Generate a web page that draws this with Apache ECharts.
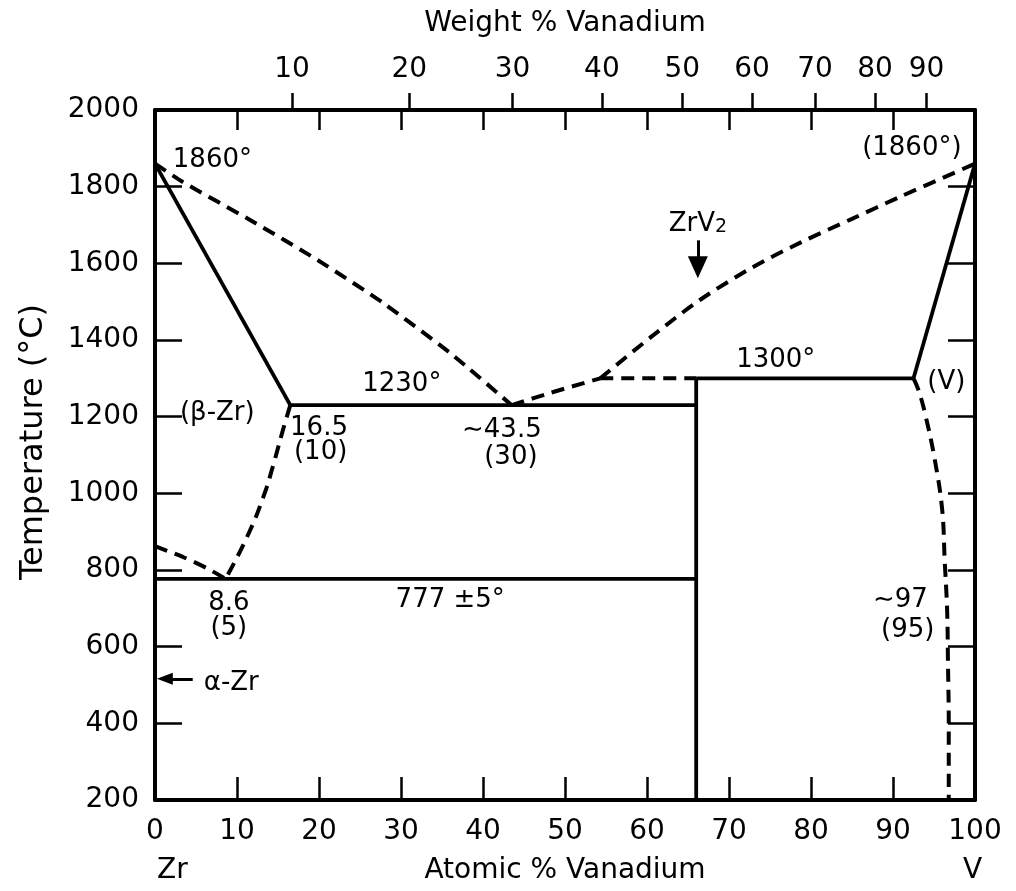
<!DOCTYPE html>
<html>
<head>
<meta charset="utf-8">
<script src="https://cdn.jsdelivr.net/npm/echarts@6/dist/echarts.min.js"></script>
<style>
html,body{margin:0;padding:0;background:#fff;}
#chart{width:1016px;height:891px;}
</style>
</head>
<body>
<div id="chart"></div>
<script>
// ---------- axes ----------
const xMin = 0, xMax = 100, xStep = 10;
const yMin = 200, yMax = 2000, yStep = 200;
// weight-% ticks on the top axis, placed at their atomic-% position
const wtTickAt = [16.7, 31.0, 43.6, 54.5, 64.3, 72.8, 80.5, 87.8, 94.1];
const wtTickLabels = ['10', '20', '30', '40', '50', '60', '70', '80', '90'];

// ---------- solid boundaries [at% V, °C] ----------
const liquidusZrSolid = [[0, 1860], [16.5, 1230]];
const eutecticLine = [[16.5, 1230], [66, 1230]];
const peritecticLine = [[66, 1300], [92.5, 1300]];
const liquidusVSolid = [[92.5, 1300], [100, 1860]];
const zrv2Line = [[66, 1300], [66, 200]];
const eutectoidLine = [[0, 777], [66, 777]];

// ---------- dashed boundaries ----------
const liquidusLeft = [[0, 1860], [3.4, 1812], [11.6, 1713], [19.8, 1609], [27.8, 1497], [36.0, 1366], [43.5, 1230]];
const liquidusMid = [[43.5, 1230], [48.2, 1262], [54.3, 1300]];
const liquidusRight = [[54.3, 1300], [60.5, 1408], [66.5, 1505], [72.9, 1590], [78.7, 1654], [85.0, 1716], [90.9, 1774], [100, 1860]];
const peritecticDash = [[54.3, 1300], [66, 1300]];
const betaBoundary = [[16.5, 1230], [15.6, 1165], [14.5, 1080], [13.2, 990], [11.2, 885], [8.6, 777]];
const alphaBoundary = [[0, 862], [3.4, 834], [6.3, 805], [8.6, 777]];
const vSolvus = [[92.5, 1300], [93.1, 1270], [93.9, 1209], [95.1, 1087], [96.0, 957], [96.3, 826], [96.6, 696], [96.7, 565], [96.8, 391], [96.8, 200]];

// ---------- arrows [tail, head centre] ----------
const zrv2Arrow = [[66.2, 1660], [66.2, 1590]];
const alphaArrow = [[4.6, 516], [1.2, 516]];

// ---------- annotations [x, y, text] ----------
const annotations = [
  [7.0, 1870, '1860°'],
  [92.3, 1900, '(1860°)'],
  [66.2, 1708, '{a|ZrV}{s|2}'],
  [30.1, 1285, '1230°'],
  [7.6, 1210, '(β-Zr)'],
  [20.0, 1170, '16.5'],
  [20.2, 1108, '(10)'],
  [42.3, 1165, '∼43.5'],
  [43.4, 1095, '(30)'],
  [75.7, 1348, '1300°'],
  [96.5, 1290, '(V)'],
  [9.0, 714, '8.6'],
  [9.0, 649, '(5)'],
  [36.0, 722, '777 ±5°'],
  [90.9, 722, '∼97'],
  [91.8, 643, '(95)'],
  [9.3, 505, 'α-Zr']
];

const FONT = 'DejaVu Sans';
const BLACK = '#000';
const DASH = [13, 8];

function solid(data) {
  return { type: 'line', data: data, showSymbol: false, symbol: 'none', silent: true,
    lineStyle: { color: BLACK, width: 3.8, cap: 'butt' }, z: 3 };
}
function dashed(data, smooth) {
  return { type: 'line', data: data, showSymbol: false, symbol: 'none', silent: true,
    smooth: smooth || 0,
    lineStyle: { color: BLACK, width: 4, type: DASH, cap: 'butt' }, z: 3 };
}
function arrow(pts, size) {
  return { type: 'line', data: [], silent: true,
    markLine: { silent: true, animation: false, symbol: ['none', 'triangle'], symbolSize: size,
      label: { show: false },
      lineStyle: { color: BLACK, width: 3, type: 'solid' },
      itemStyle: { color: BLACK },
      emphasis: { disabled: true },
      data: [[{ coord: pts[0] }, { coord: pts[1] }]] } };
}

const chart = echarts.init(document.getElementById('chart'), null, { renderer: 'canvas' });
const axisLineStyle = { color: BLACK, width: 4 };
const tickStyle = { color: BLACK, width: 2.5 };
const labelStyle = { color: BLACK, fontSize: 28, fontFamily: FONT };

chart.setOption({
  animation: false,
  backgroundColor: '#fff',
  textStyle: { fontFamily: FONT, color: BLACK },
  grid: { left: 155, right: 41, top: 110, bottom: 91, containLabel: false },
  xAxis: [
    { type: 'value', position: 'bottom', min: xMin, max: xMax, interval: xStep,
      axisLine: { show: true, lineStyle: axisLineStyle },
      axisTick: { show: true, inside: true, length: 23, lineStyle: tickStyle },
      axisLabel: Object.assign({ margin: 18 }, labelStyle),
      splitLine: { show: false },
      name: 'Atomic % Vanadium', nameLocation: 'middle', nameGap: 57,
      nameTextStyle: { color: BLACK, fontSize: 28, fontFamily: FONT } },
    { type: 'value', position: 'top', min: xMin, max: xMax, interval: xStep,
      axisLine: { show: true, lineStyle: axisLineStyle },
      axisTick: { show: true, inside: true, length: 20, lineStyle: tickStyle },
      axisLabel: { show: false }, splitLine: { show: false } },
    { type: 'value', position: 'top', min: xMin, max: xMax,
      axisLine: { show: false },
      axisTick: { show: true, inside: false, length: 17, lineStyle: tickStyle, customValues: wtTickAt },
      axisLabel: Object.assign({ margin: 26, customValues: wtTickAt,
        formatter: function (v) {
          let best = 0;
          for (let i = 1; i < wtTickAt.length; i++) if (Math.abs(wtTickAt[i] - v) < Math.abs(wtTickAt[best] - v)) best = i;
          return wtTickLabels[best];
        } }, labelStyle),
      splitLine: { show: false },
      name: 'Weight % Vanadium', nameLocation: 'middle', nameGap: 72,
      nameTextStyle: { color: BLACK, fontSize: 28, fontFamily: FONT } }
  ],
  yAxis: [
    { type: 'value', position: 'left', min: yMin, max: yMax, interval: yStep,
      axisLine: { show: true, lineStyle: axisLineStyle },
      axisTick: { show: true, inside: true, length: 27, lineStyle: tickStyle },
      axisLabel: Object.assign({ margin: 16, formatter: v => String(v) }, labelStyle),
      splitLine: { show: false },
      name: 'Temperature (°C)', nameLocation: 'middle', nameGap: 105, nameRotate: 90,
      nameTextStyle: { color: BLACK, fontSize: 32, fontFamily: FONT, padding: [0, 0, 0, 26] } },
    // right frame edge: a left-type axis shifted onto the right edge, ticks pointing back inside
    { type: 'value', position: 'left', offset: -820, min: yMin, max: yMax, interval: yStep,
      axisLine: { show: true, lineStyle: axisLineStyle },
      axisTick: { show: true, inside: false, length: 27, lineStyle: tickStyle },
      axisLabel: { show: false }, splitLine: { show: false } }
  ],
  series: [
    solid(liquidusZrSolid),
    solid(eutecticLine),
    solid(peritecticLine),
    solid(liquidusVSolid),
    solid(zrv2Line),
    solid(eutectoidLine),
    dashed(liquidusLeft, 0.2),
    dashed(liquidusMid, 0.3),
    dashed(liquidusRight, 0.3),
    dashed(peritecticDash, 0),
    dashed(betaBoundary, 0.5),
    dashed(alphaBoundary, 0.3),
    dashed(vSolvus, 0.4),
    arrow(zrv2Arrow, [20, 22]),
    arrow(alphaArrow, [12, 16]),
    { type: 'scatter', silent: true, symbolSize: 0,
      itemStyle: { color: BLACK, opacity: 1 },
      data: annotations.map(a => ({ value: [a[0], a[1]], name: a[2] })),
      label: { show: true, position: 'inside', align: 'center', verticalAlign: 'middle',
        color: BLACK, opacity: 1, textBorderWidth: 0, fontSize: 26, fontFamily: FONT,
        formatter: p => p.name,
        rich: {
          a: { color: BLACK, fontSize: 26, fontFamily: FONT, lineHeight: 30, verticalAlign: 'bottom' },
          s: { color: BLACK, fontSize: 19, fontFamily: FONT, lineHeight: 30, verticalAlign: 'bottom', padding: [12, 0, 0, 0] }
        } },
      z: 5 }
  ],
  graphic: [
    { type: 'text', left: 157, top: 857, style: { text: 'Zr', fontSize: 28, fontFamily: FONT, fill: BLACK } },
    { type: 'text', left: 963, top: 857, style: { text: 'V', fontSize: 28, fontFamily: FONT, fill: BLACK } }
  ]
});
</script>
</body>
</html>
